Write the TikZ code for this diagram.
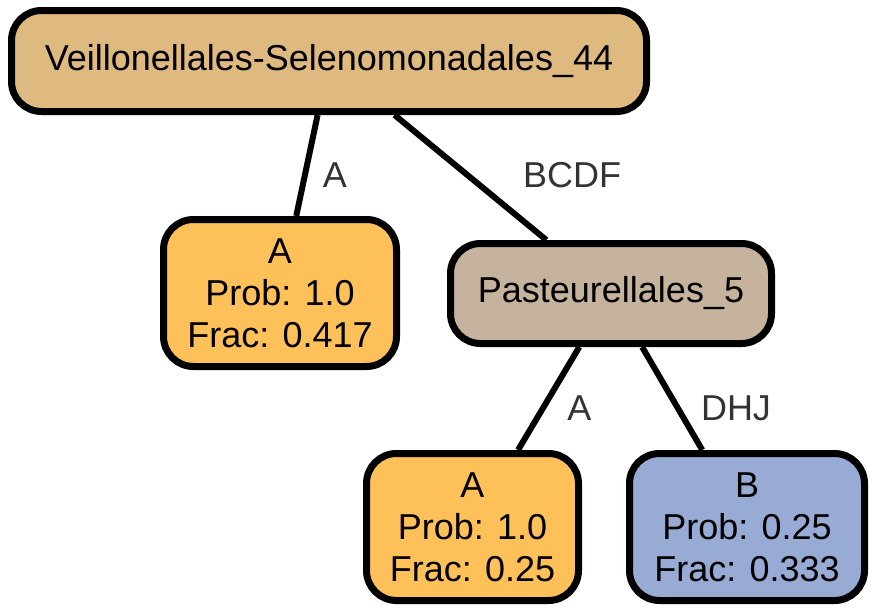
\documentclass[tikz,border=0pt]{standalone}
\usepackage{fontspec}
\setmainfont{Liberation Sans}
\definecolor{rootfill}{RGB}{222,185,128}
\definecolor{afill}{RGB}{254,192,88}
\definecolor{pastfill}{RGB}{197,179,158}
\definecolor{bfill}{RGB}{152,171,212}
\definecolor{lblgray}{RGB}{51,51,51}
\tikzset{
  taxon/.style={draw=black,line width=7pt,rounded corners=30pt,align=center,
    inner sep=0pt,font={\fontsize{36}{42}\selectfont}},
  leaf/.style={taxon,minimum height=147pt},
  branch/.style={line width=6pt},
  lbl/.style={text=lblgray,inner sep=0pt,font={\fontsize{36}{42}\selectfont}}
}
\begin{document}
\begin{tikzpicture}[x=1pt,y=-1pt]
    \useasboundingbox (0,0) rectangle (876,613);
    \node[taxon,fill=rootfill,minimum width=635pt,minimum height=101pt] (veil) at (329,61) {Veillonellales-Selenomonadales\_44};
    \node[leaf,fill=afill,minimum width=233pt] (leafA1) at (280,293) {A\\Prob: 1.0\\Frac: 0.417};
    \node[taxon,fill=pastfill,minimum width=321pt,minimum height=100pt] (past) at (611,293.5) {Pasteurellales\_5};
    \node[leaf,fill=afill,minimum width=212pt] (leafA2) at (472.5,527) {A\\Prob: 1.0\\Frac: 0.25};
    \node[leaf,fill=bfill,minimum width=235pt] (leafB) at (747,527) {B\\Prob: 0.25\\Frac: 0.333};
    \draw[branch] (veil) -- (leafA1);
    \draw[branch] (veil) -- (past);
    \draw[branch] (past) -- (leafA2);
    \draw[branch] (past) -- (leafB);
    \node[lbl] (lA1) at (335,175) {A};
    \node[lbl] (lBCDF) at (572,175) {BCDF};
    \node[lbl] (lA2) at (579.5,408) {A};
    \node[lbl] (lDHJ) at (736,408) {DHJ};
\end{tikzpicture}
\end{document}
